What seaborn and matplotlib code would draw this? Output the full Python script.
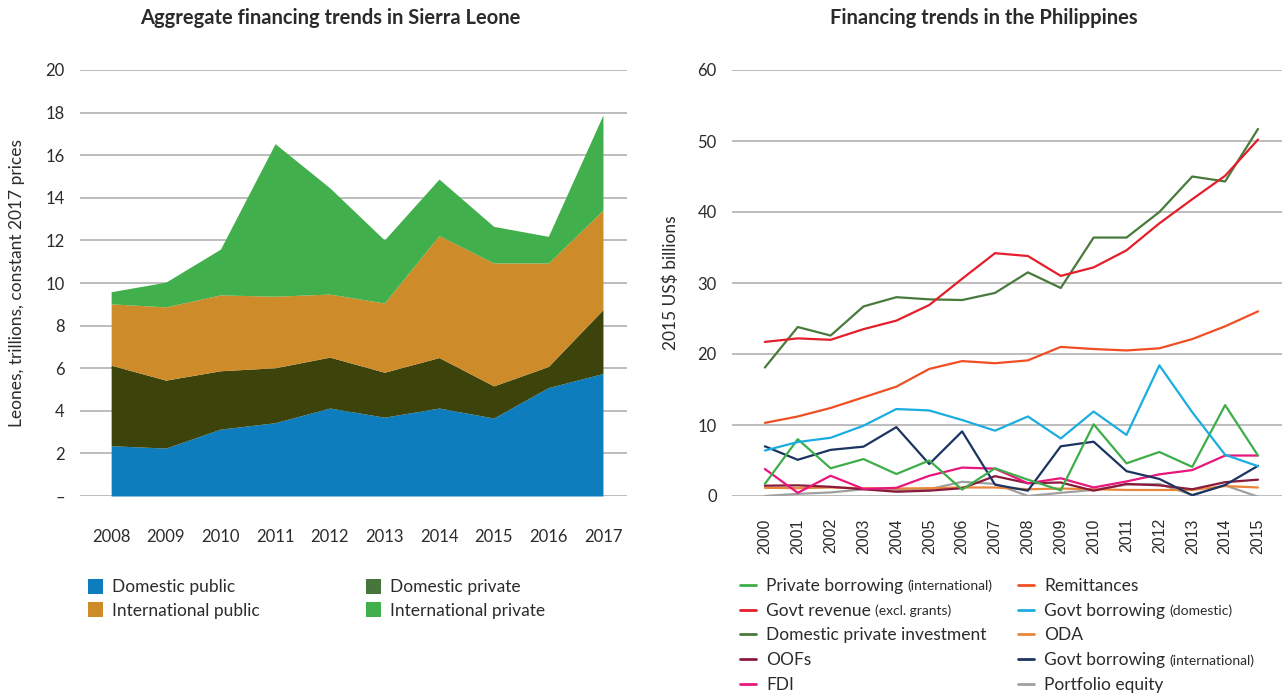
import numpy as np
import pandas as pd
import matplotlib
matplotlib.use("Agg")
import matplotlib.pyplot as plt
from matplotlib.lines import Line2D
from matplotlib.patches import Patch
import seaborn as sns

# ---------------- Data: Sierra Leone (stacked areas) ----------------
sl_years = [2008, 2009, 2010, 2011, 2012, 2013, 2014, 2015, 2016, 2017]
sl_domestic_public = [2.36, 2.25, 3.14, 3.44, 4.13, 3.70, 4.13, 3.66, 5.09, 5.75]
sl_domestic_private = [3.78, 3.19, 2.74, 2.58, 2.39, 2.11, 2.37, 1.51, 0.99, 3.00]
sl_international_public = [2.88, 3.44, 3.56, 3.36, 2.96, 3.25, 5.73, 5.77, 4.86, 4.67]
sl_international_private = [0.57, 1.16, 2.15, 7.16, 4.99, 2.96, 2.65, 1.72, 1.25, 4.47]
sl_labels = ["Domestic public", "Domestic private", "International public", "International private"]
sl_ticks = [0, 2, 4, 6, 8, 10, 12, 14, 16, 18, 20]
sl_tick_labels = ["–", "2", "4", "6", "8", "10", "12", "14", "16", "18", "20"]

# ---------------- Data: Philippines (lines) ----------------
ph_years = list(range(2000, 2016))
private_borrowing_intl = [1.7, 8.0, 3.9, 5.2, 3.1, 5.0, 0.9, 3.9, 2.3, 0.8, 10.1, 4.6, 6.2, 4.1, 12.8, 5.7]
govt_revenue = [21.7, 22.2, 22.0, 23.5, 24.7, 26.9, 30.6, 34.2, 33.8, 31.0, 32.2, 34.6, 38.4, 41.8, 45.1, 50.2]
domestic_private_inv = [18.1, 23.8, 22.6, 26.7, 28.0, 27.7, 27.6, 28.6, 31.5, 29.3, 36.4, 36.4, 40.0, 45.0, 44.3, 51.7]
oofs = [1.45, 1.5, 1.3, 0.95, 0.6, 0.75, 1.1, 2.8, 1.8, 1.9, 0.75, 1.7, 1.5, 0.95, 1.95, 2.3]
fdi = [3.8, 0.45, 2.85, 1.0, 1.15, 2.85, 4.0, 3.85, 1.8, 2.5, 1.2, 2.05, 3.05, 3.65, 5.7, 5.7]
remittances = [10.3, 11.2, 12.4, 13.9, 15.4, 17.9, 19.0, 18.7, 19.1, 21.0, 20.7, 20.5, 20.8, 22.1, 23.9, 26.0]
govt_borrowing_dom = [6.4, 7.6, 8.2, 9.9, 12.25, 12.05, 10.7, 9.2, 11.2, 8.1, 11.9, 8.6, 18.4, 11.8, 5.8, 4.2]
oda = [1.15, 1.1, 1.2, 1.1, 1.05, 1.1, 1.2, 1.2, 0.95, 1.05, 0.95, 0.85, 0.85, 0.85, 1.4, 1.2]
govt_borrowing_intl = [7.0, 5.1, 6.5, 6.95, 9.7, 4.5, 9.1, 1.6, 0.75, 7.0, 7.65, 3.5, 2.4, 0.1, 1.55, 4.25]
portfolio_equity = [0.0, 0.3, 0.5, 0.95, 0.85, 0.95, 2.0, 1.7, 0.0, 0.45, 0.85, 1.6, 1.7, 0.15, 1.5, -0.1]

ph_series = {
    "Private borrowing": private_borrowing_intl,
    "Govt revenue": govt_revenue,
    "Domestic private investment": domestic_private_inv,
    "OOFs": oofs,
    "FDI": fdi,
    "Remittances": remittances,
    "Govt borrowing (domestic)": govt_borrowing_dom,
    "ODA": oda,
    "Govt borrowing (international)": govt_borrowing_intl,
    "Portfolio equity": portfolio_equity,
}
ph_display = {
    "Private borrowing": ("Private borrowing", "(international)"),
    "Govt revenue": ("Govt revenue", "(excl. grants)"),
    "Domestic private investment": ("Domestic private investment", ""),
    "OOFs": ("OOFs", ""),
    "FDI": ("FDI", ""),
    "Remittances": ("Remittances", ""),
    "Govt borrowing (domestic)": ("Govt borrowing", "(domestic)"),
    "ODA": ("ODA", ""),
    "Govt borrowing (international)": ("Govt borrowing", "(international)"),
    "Portfolio equity": ("Portfolio equity", ""),
}
ph_colors = {
    "Private borrowing": "#3DAE49",
    "Govt revenue": "#E41E2B",
    "Domestic private investment": "#477A3B",
    "OOFs": "#8A1A3C",
    "FDI": "#E8177D",
    "Remittances": "#F04E23",
    "Govt borrowing (domestic)": "#1BADE0",
    "ODA": "#E8863A",
    "Govt borrowing (international)": "#1C3461",
    "Portfolio equity": "#A0A0A0",
}
# drawing order (bottom first)
draw_order = ["Portfolio equity", "ODA", "OOFs", "FDI", "Govt borrowing (international)",
              "Private borrowing", "Govt borrowing (domestic)", "Remittances",
              "Domestic private investment", "Govt revenue"]

# ---------------- Style ----------------
sns.set_theme(style="white")
plt.rcParams["font.family"] = ["Lato", "DejaVu Sans"]
TXT = "#2b2b2b"
GRID = "#BDBDBD"

fig = plt.figure(figsize=(12.82, 6.95), dpi=100)
W, H = 1282, 695

def ax_rect(x0, x1, ytop, ybot):
    return [x0 / W, 1 - ybot / H, (x1 - x0) / W, (ybot - ytop) / H]

# ---------------- Left chart ----------------
axL = fig.add_axes(ax_rect(80, 627, 70, 496))
sl_colors = ["#0D7DBE", "#3C430B", "#CD8B2A", "#41AF4C"]
axL.stackplot(sl_years, sl_domestic_public, sl_domestic_private,
              sl_international_public, sl_international_private,
              colors=sl_colors, linewidth=0, zorder=2)
axL.set_xlim(2007.43, 2017.44)
axL.set_ylim(0, 20)
axL.set_yticks(sl_ticks)
axL.set_yticklabels(sl_tick_labels)
axL.set_xticks(sl_years)
axL.yaxis.grid(True, color=GRID, lw=1.4, zorder=0)
axL.set_axisbelow(True)
for s in axL.spines.values():
    s.set_visible(False)
axL.tick_params(axis="y", length=0, pad=11, labelsize=12, labelcolor=TXT)
axL.tick_params(axis="x", length=0, pad=24, labelsize=12, labelcolor=TXT)
axL.set_ylabel("Leones, trillions, constant 2017 prices", fontsize=12.5, color=TXT)
axL.yaxis.set_label_coords(-0.100, 0.5)

# ---------------- Right chart ----------------
axR = fig.add_axes(ax_rect(732, 1282, 70, 496))
long = pd.DataFrame([
    {"year": y, "value": v, "series": name}
    for name in draw_order for y, v in zip(ph_years, ph_series[name])
])
sns.lineplot(data=long, x="year", y="value", hue="series", hue_order=draw_order,
             palette=ph_colors, linewidth=1.6, legend=False, estimator=None,
             sort=False, ax=axR, zorder=3)
axR.set_xlim(1999.0, 2015.73)
axR.set_ylim(0, 60)
axR.set_yticks([0, 10, 20, 30, 40, 50, 60])
axR.set_xticks(ph_years)
axR.set_xticklabels([str(y) for y in ph_years], rotation=90,
                    family=["Liberation Sans", "DejaVu Sans"])
axR.yaxis.grid(True, color=GRID, lw=1.4, zorder=0)
axR.set_axisbelow(True)
for s in axR.spines.values():
    s.set_visible(False)
axR.tick_params(axis="y", length=0, pad=11, labelsize=12, labelcolor=TXT)
axR.tick_params(axis="x", length=0, pad=16, labelsize=11.5, labelcolor=TXT)
axR.set_xlabel("")
axR.set_ylabel("2015 US$ billions", fontsize=12.5, color=TXT)
axR.yaxis.set_label_coords(-0.096, 0.5)

# ---------------- Titles ----------------
fig.text(330 / W, 1 - 18 / H, "Aggregate financing trends in Sierra Leone",
         ha="center", va="center", fontsize=14.5, fontweight="bold", color=TXT)
fig.text(984 / W, 1 - 18 / H, "Financing trends in the Philippines",
         ha="center", va="center", fontsize=14.5, fontweight="bold", color=TXT)

# ---------------- Left legend ----------------
leg_patch_colors = ["#0D7DBE", "#47763C", "#CD8B2A", "#41AF4C"]
col1 = [0, 2]
col2 = [1, 3]
for cols, x in ((col1, 88), (col2, 366)):
    handles = [Patch(facecolor=leg_patch_colors[i], edgecolor="none") for i in cols]
    labels = [sl_labels[i] for i in cols]
    lg = fig.legend(handles, labels, loc="upper left",
                    bbox_to_anchor=(x / W, 1 - 579 / H), frameon=False,
                    fontsize=12.5, handlelength=0.85, handleheight=0.95,
                    handletextpad=0.55, labelspacing=0.38, borderaxespad=0,
                    borderpad=0)
    for t in lg.get_texts():
        t.set_color(TXT)

# ---------------- Right legend ----------------
legend_order = ["Private borrowing", "Govt revenue", "Domestic private investment", "OOFs", "FDI",
                "Remittances", "Govt borrowing (domestic)", "ODA",
                "Govt borrowing (international)", "Portfolio equity"]
right_legs = []
for names, x in ((legend_order[:5], 740), (legend_order[5:], 1018)):
    handles = [Line2D([], [], color=ph_colors[n], lw=2) for n in names]
    labels = [ph_display[n][0] for n in names]
    lg = fig.legend(handles, labels, loc="upper left",
                    bbox_to_anchor=(x / W, 1 - 578 / H), frameon=False,
                    fontsize=12.5, handlelength=0.9, handletextpad=0.6,
                    labelspacing=0.5, borderaxespad=0, borderpad=0)
    for t in lg.get_texts():
        t.set_color(TXT)
    right_legs.append((lg, names))

fig.canvas.draw()
renderer = fig.canvas.get_renderer()
for lg, names in right_legs:
    for t, n in zip(lg.get_texts(), names):
        suffix = ph_display[n][1]
        if suffix:
            bb = t.get_window_extent(renderer)
            fig.text((bb.x1 + 4) / W, (bb.y0 + 1.5) / H, suffix, ha="left", va="bottom",
                     fontsize=10, color=TXT)

fig.savefig("out.png", dpi=100, facecolor="white")
